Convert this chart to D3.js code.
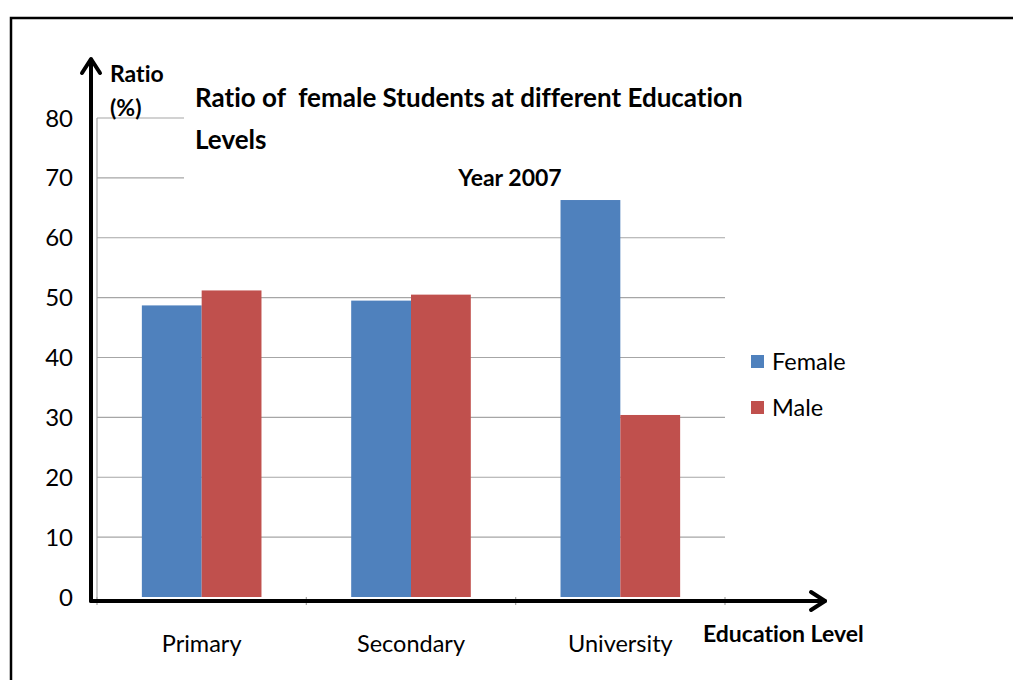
<!DOCTYPE html>
<html>
<head>
<meta charset="utf-8">
<script src="https://cdn.jsdelivr.net/npm/d3@7/dist/d3.min.js"></script>
<style>
  html, body { margin: 0; padding: 0; background: #fff; }
  svg { display: block; }
  text { font-family: Lato, "Open Sans", sans-serif; fill: #000; font-variant-ligatures: none; white-space: pre; }
</style>
</head>
<body>
<svg id="chart" width="1013" height="680"></svg>
<script>
// Education levels and the two series (percent)
const categories = ["Primary", "Secondary", "University"];
const seriesNames = ["Female", "Male"];
const femaleValues = [48.7, 49.5, 66.3];
const maleValues = [51.2, 50.5, 30.4];
const yTicks = [0, 10, 20, 30, 40, 50, 60, 70, 80];
const colors = ["#4F81BD", "#C0504D"];

const svg = d3.select("#chart");

// outer frame
svg.append("rect")
  .attr("x", 11).attr("y", 18).attr("width", 1010).attr("height", 680)
  .attr("fill", "none").attr("stroke", "#000").attr("stroke-width", 2.5);

const plot = { left: 97, right: 725, top: 118, bottom: 597 };

const x = d3.scaleBand().domain(categories).range([plot.left, plot.right]);
const xs = d3.scaleBand().domain(seriesNames).range([0, x.bandwidth()]).paddingInner(0).paddingOuter(0.75);
const y = d3.scaleLinear().domain([0, 80]).range([plot.bottom, plot.top]);

// horizontal gridlines
svg.append("g").selectAll("line").data(yTicks.filter(d => d > 0)).join("line")
  .attr("x1", plot.left)
  .attr("x2", d => d >= 70 ? 184 : plot.right)
  .attr("y1", d => y(d)).attr("y2", d => y(d))
  .attr("stroke", "#a6a6a6").attr("stroke-width", 1.2);

// thin plot-area axis line
svg.append("line")
  .attr("x1", plot.left).attr("x2", plot.left)
  .attr("y1", y(80)).attr("y2", plot.bottom + 4)
  .attr("stroke", "#a6a6a6").attr("stroke-width", 1.2);

// category boundary ticks
svg.append("g").selectAll("line").data(d3.range(categories.length + 1)).join("line")
  .attr("x1", i => plot.left + i * x.step()).attr("x2", i => plot.left + i * x.step())
  .attr("y1", plot.bottom).attr("y2", plot.bottom + 8)
  .attr("stroke", "#a6a6a6").attr("stroke-width", 1.2);

// bars
const rows = categories.map((c, i) => ({ cat: c, vals: [femaleValues[i], maleValues[i]] }));
const groups = svg.append("g").selectAll("g").data(rows).join("g")
  .attr("transform", d => `translate(${x(d.cat)},0)`);
groups.selectAll("rect").data(d => d.vals.map((v, k) => ({ v, k }))).join("rect")
  .attr("x", d => xs(seriesNames[d.k]))
  .attr("width", xs.bandwidth())
  .attr("y", d => y(d.v))
  .attr("height", d => y(0) - y(d.v))
  .attr("fill", d => colors[d.k]);

// y tick labels
svg.append("g").selectAll("text").data(yTicks).join("text")
  .attr("x", 73).attr("y", d => y(d) + 8.5)
  .attr("text-anchor", "end")
  .style("font-size", "24px")
  .text(d => d);

// x category labels
svg.append("g").selectAll("text").data(categories).join("text")
  .attr("x", d => x(d) + x.bandwidth() / 2).attr("y", 652)
  .attr("text-anchor", "middle")
  .style("font-size", "23.5px")
  .text(d => d);

// black arrow axes
const arrow = svg.append("g").attr("stroke", "#000").attr("fill", "none")
  .attr("stroke-width", 4).attr("stroke-linecap", "round").attr("stroke-linejoin", "round");
arrow.append("line").attr("x1", 91).attr("x2", 91).attr("y1", 601).attr("y2", 60);
arrow.append("polyline").attr("points", "82,73 91,59 100,73");
arrow.append("line").attr("x1", 91).attr("x2", 825).attr("y1", 601).attr("y2", 601);
arrow.append("polyline").attr("points", "811,592 825,601 811,610");

// axis titles
svg.append("text").attr("x", 110).attr("y", 82)
  .style("font-size", "23px").style("font-weight", "bold").text("Ratio");
svg.append("text").attr("x", 110).attr("y", 116)
  .style("font-size", "23px").style("font-weight", "bold").text("(%)");
svg.append("text").attr("x", 703).attr("y", 642)
  .style("font-size", "23px").style("font-weight", "bold").text("Education Level");

// chart title
svg.append("text").attr("x", 195).attr("y", 107)
  .style("font-size", "26px").style("font-weight", "bold")
  .text("Ratio of  female Students at different Education");
svg.append("text").attr("x", 195).attr("y", 149)
  .style("font-size", "26px").style("font-weight", "bold").text("Levels");
svg.append("text").attr("x", 510).attr("y", 186).attr("text-anchor", "middle")
  .style("font-size", "23px").style("font-weight", "bold").text("Year 2007");

// legend
const legend = svg.append("g").selectAll("g").data(seriesNames).join("g")
  .attr("transform", (d, i) => `translate(751,${355 + i * 46})`);
legend.append("rect").attr("width", 13).attr("height", 13).attr("fill", (d, i) => colors[i]);
legend.append("text").attr("x", 21).attr("y", 15).style("font-size", "23.5px").text(d => d);
</script>
</body>
</html>
